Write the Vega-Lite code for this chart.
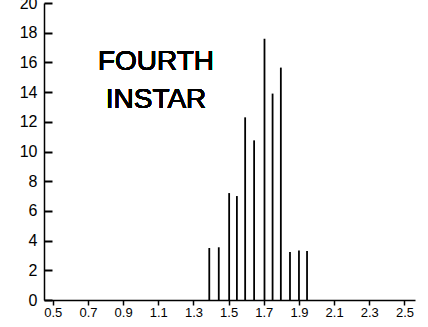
{
  "$schema": "https://vega.github.io/schema/vega-lite/v6.json",
  "width": 371,
  "height": 297,
  "autosize": "none",
  "padding": {"left": 44, "top": 3, "right": 13, "bottom": 27},
  "background": "white",
  "config": {
    "view": {"stroke": null},
    "font": "Liberation Sans",
    "axis": {"grid": false, "domainColor": "black", "tickColor": "black", "labelColor": "black", "domainWidth": 1.5, "tickWidth": 1.5, "labelOverlap": false, "labelFlush": false, "labelFont": "Liberation Sans"},
    "axisX": {"labelFontSize": 13, "tickSize": 5, "labelPadding": 1},
    "axisY": {"labelFontSize": 16, "labelBaseline": "middle"}
  },
  "data": {
    "values": [
      {"size": 1.39, "pct": 3.5},
      {"size": 1.444, "pct": 3.55},
      {"size": 1.503, "pct": 7.2},
      {"size": 1.547, "pct": 7.0},
      {"size": 1.594, "pct": 12.3},
      {"size": 1.645, "pct": 10.75},
      {"size": 1.704, "pct": 17.6},
      {"size": 1.75, "pct": 13.9},
      {"size": 1.797, "pct": 15.65},
      {"size": 1.849, "pct": 3.23},
      {"size": 1.9, "pct": 3.33},
      {"size": 1.946, "pct": 3.3}
    ]
  },
  "encoding": {
    "x": {
      "field": "size", "type": "quantitative",
      "scale": {"domain": [0.45, 2.56], "nice": false, "zero": false},
      "axis": {
        "title": null,
        "values": [0.5, 0.7, 0.9, 1.1, 1.3, 1.5, 1.7, 1.9, 2.1, 2.3, 2.5],
        "format": ".1f",
        "labelOverlap": false
      }
    },
    "y": {
      "field": "pct", "type": "quantitative",
      "scale": {"domain": [0, 20], "nice": false},
      "axis": {
        "title": null,
        "values": [0, 2, 4, 6, 8, 10, 12, 14, 16, 18, 20],
        "labelOverlap": false,
        "tickSize": -8,
        "tickWidth": 2,
        "labelPadding": 15
      }
    }
  },
  "layer": [
    {
      "mark": {"type": "rule", "color": "black", "strokeWidth": 1.8},
      "encoding": {
        "y2": {"datum": 0}
      }
    },
    {
      "mark": {"type": "text", "text": ["FOURTH", "INSTAR"], "fontSize": 28, "fontWeight": 400, "lineHeight": 38, "align": "center", "baseline": "alphabetic", "font": "Liberation Sans", "color": "black", "x": {"expr": "scale('x', 1.087)"}, "y": {"expr": "scale('y', 15.49)"}},
      "encoding": {
        "x": null,
        "y": null
      }
    }
  ]
}
